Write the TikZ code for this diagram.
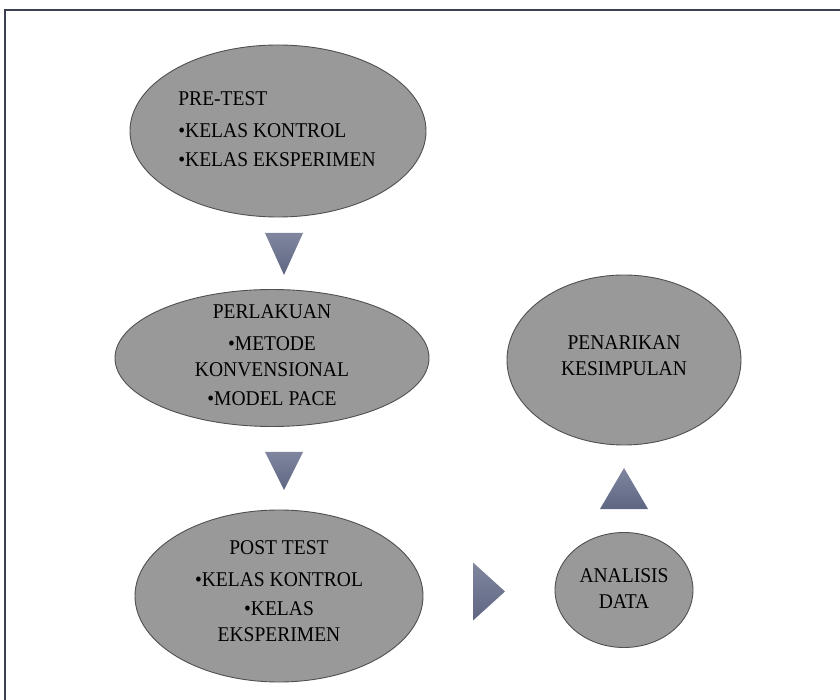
\documentclass[tikz,border=0pt]{standalone}
\usepackage{fontspec}
\setmainfont{Liberation Serif}[FakeStretch=0.93]
\usetikzlibrary{shapes.geometric}
\definecolor{ellfill}{HTML}{999999}
\definecolor{elldraw}{HTML}{505050}
\definecolor{tritop}{HTML}{80869E}
\definecolor{tribot}{HTML}{5F6682}
\definecolor{framec}{HTML}{3A4252}
\tikzset{
  oval/.style={ellipse, draw=elldraw, fill=ellfill, line width=0.9pt, inner sep=0pt},
  lbl/.style={inner sep=0pt, font=\fontsize{21}{26}\selectfont, text=black},
  tri/.style={top color=tritop, bottom color=tribot, draw=none},
}
\begin{document}
\begin{tikzpicture}[x=1pt,y=1pt]
\useasboundingbox (0,0) rectangle (840,699);
\draw[framec, line width=1.4pt] (840,689) -- (5,689) -- (5,-2);

% ellipses
\node[oval, minimum width=296pt, minimum height=172pt] (e1) at (278,568) {};
\node[oval, minimum width=314pt, minimum height=137pt] (e2) at (272,341) {};
\node[oval, minimum width=288pt, minimum height=172pt] (e3) at (279,103) {};
\node[oval, minimum width=234pt, minimum height=170pt] (e4) at (624,339) {};
\node[oval, minimum width=138pt, minimum height=115pt] (e5) at (624,109) {};

% texts
\node[lbl, align=left] (t1) at (277,570) {PRE-TEST\\[6pt]•KELAS KONTROL\\[3pt]•KELAS EKSPERIMEN};
\node[lbl, align=center] (t2) at (272,344) {PERLAKUAN\\[6pt]•METODE\\KONVENSIONAL\\[3pt]•MODEL PACE};
\node[lbl, align=center] (t3) at (279,108) {POST TEST\\[6pt]•KELAS KONTROL\\[3pt]•KELAS\\EKSPERIMEN};
\node[lbl, align=center] (t4) at (624,343) {PENARIKAN\\KESIMPULAN};
\node[lbl, align=center] (t5) at (624,110) {ANALISIS\\DATA};

% arrow triangles
\coordinate (a1) at (284,445);
\coordinate (a2) at (284,228);
\coordinate (a3) at (624,210);
\coordinate (a4) at (489,107.5);
\shade[tri] ([shift={(-19,21)}]a1) -- ([shift={(19,21)}]a1) -- ([shift={(0,-21)}]a1) -- cycle;
\shade[tri] ([shift={(-19,19)}]a2) -- ([shift={(19,19)}]a2) -- ([shift={(0,-19)}]a2) -- cycle;
\shade[tri] ([shift={(-24,-20)}]a3) -- ([shift={(24,-20)}]a3) -- ([shift={(0,21)}]a3) -- cycle;
\shade[tri] ([shift={(-16,29)}]a4) -- ([shift={(16,0)}]a4) -- ([shift={(-16,-29)}]a4) -- cycle;
\end{tikzpicture}
\end{document}
